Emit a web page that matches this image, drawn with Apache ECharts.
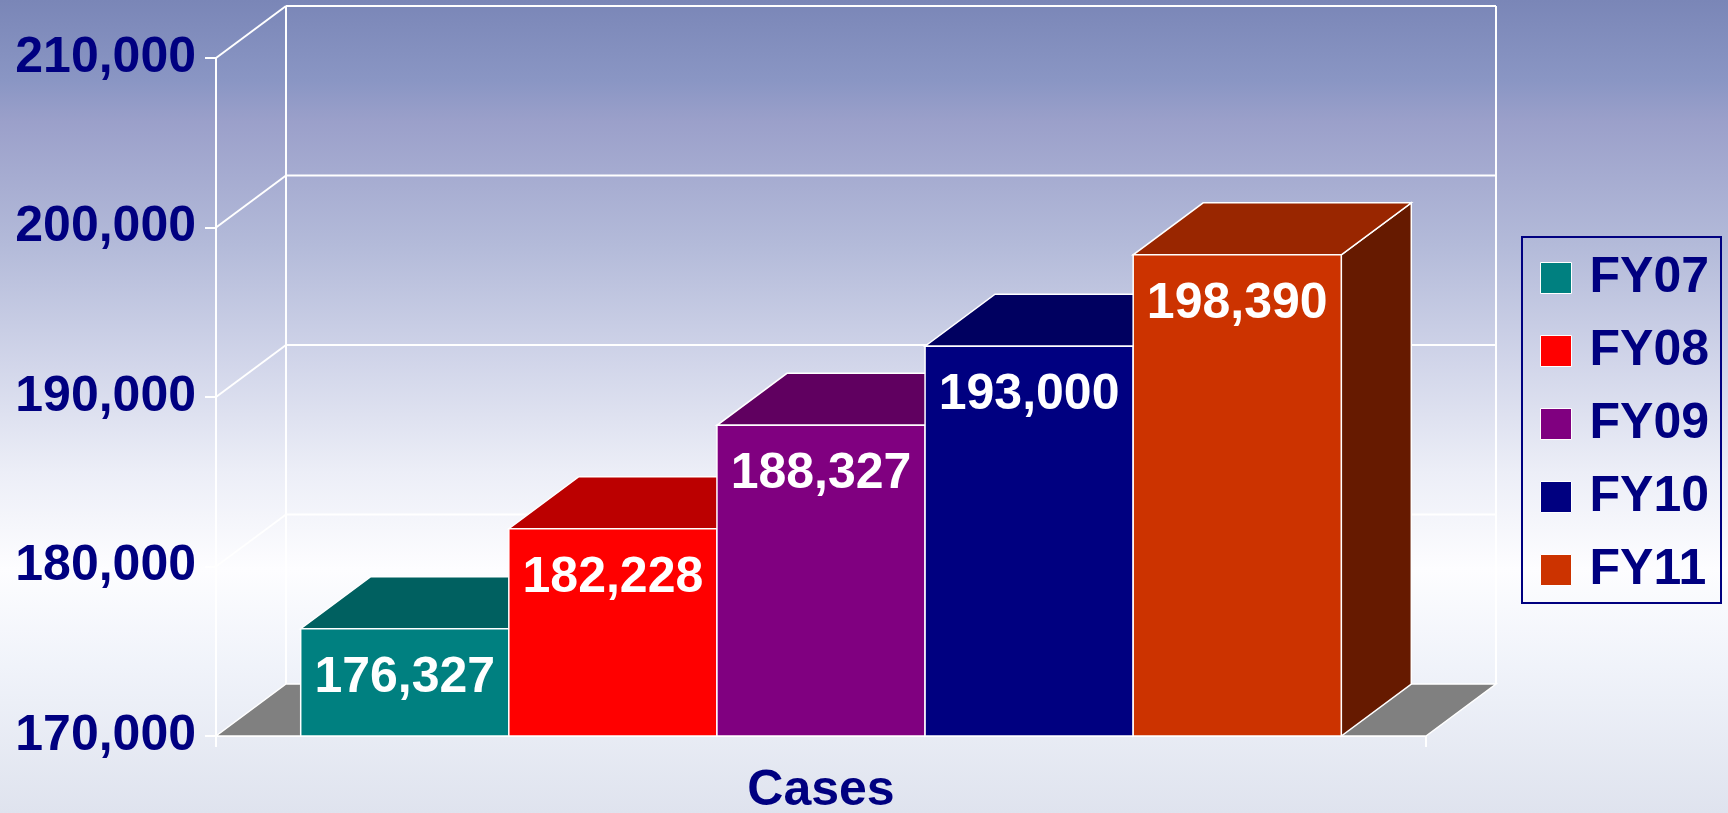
<!DOCTYPE html>
<html>
<head>
<meta charset="utf-8">
<title>Cases FY07-FY11</title>
<script src="https://cdn.jsdelivr.net/npm/echarts@6/dist/echarts.min.js"></script>
<style>
  html, body { margin: 0; padding: 0; }
  #chart { width: 1728px; height: 813px; }
</style>
</head>
<body>
<div id="chart"></div>
<script>
// data
const categories = ['Cases']
const seriesNames = ['FY07', 'FY08', 'FY09', 'FY10', 'FY11']
const caseValues = [176327, 182228, 188327, 193000, 198390]
const yTicks = [170000, 180000, 190000, 200000, 210000]

// styles
const frontColors = ['#008080', '#FF0000', '#800080', '#000080', '#CC3300']
const topColors = ['#006060', '#BB0000', '#600060', '#000060', '#992600']
const sideColors = ['#004040', '#800000', '#400040', '#000040', '#661A00']
const DX = 70, DY = 52          // depth of the fake 3d
const BAR_SPAN = 0.86           // share of the category band used by the bars
const FONT = '"Liberation Sans", Arial, sans-serif'
const NAVY = '#000080'

const fmt = v => Number(v).toLocaleString('en-US')

const myChart = echarts.init(document.getElementById('chart'))

// back wall, diagonals and floor, one item per y tick
const renderFrame = (params, api) => {
  const cs = params.coordSys
  const p = api.coord([0, api.value(1)])
  const y = p[1]
  const gx = cs.x, gw = cs.width
  const line = { stroke: '#fff', lineWidth: 2 }
  const children = []
  if (api.value(1) === yTicks[0]) {
    children.push({
      type: 'polygon',
      shape: { points: [[gx, y], [gx + gw, y], [gx + gw + DX, y - DY], [gx + DX, y - DY]] },
      style: { fill: '#808080', stroke: '#fff', lineWidth: 1.5 }
    })
  } else {
    children.push({ type: 'line', shape: { x1: gx + DX, y1: y - DY, x2: gx + gw + DX, y2: y - DY }, style: line })
    children.push({ type: 'line', shape: { x1: gx, y1: y, x2: gx + DX, y2: y - DY }, style: line })
  }
  if (api.value(1) === yTicks[yTicks.length - 1]) {
    const yb = api.coord([0, yTicks[0]])[1]
    children.push({ type: 'line', shape: { x1: gx + DX, y1: y - DY, x2: gx + DX, y2: yb - DY }, style: line })
    children.push({ type: 'line', shape: { x1: gx + gw + DX, y1: y - DY, x2: gx + gw + DX, y2: yb - DY }, style: line })
  }
  return { type: 'group', children }
}

// one box per series
const renderBox = i => (params, api) => {
  const v = api.value(1)
  const top = api.coord([api.value(0), v])
  const base = api.coord([api.value(0), yTicks[0]])
  const band = api.size([1, 0])[0]
  const total = band * BAR_SPAN
  const w = total / seriesNames.length
  const x0 = top[0] - total / 2 + i * w
  const x1 = x0 + w
  const yt = top[1], yb = base[1]
  const edge = { stroke: '#fff', lineWidth: 1.5 }
  return {
    type: 'group',
    children: [
      {
        type: 'polygon',
        shape: { points: [[x1, yt], [x1 + DX, yt - DY], [x1 + DX, yb - DY], [x1, yb]] },
        style: Object.assign({ fill: sideColors[i] }, edge)
      },
      {
        type: 'polygon',
        shape: { points: [[x0, yt], [x1, yt], [x1 + DX, yt - DY], [x0 + DX, yt - DY]] },
        style: Object.assign({ fill: topColors[i] }, edge)
      },
      {
        type: 'rect',
        shape: { x: x0, y: yt, width: w, height: yb - yt },
        style: Object.assign({ fill: frontColors[i] }, edge)
      },
      {
        type: 'text',
        style: {
          text: fmt(v),
          x: (x0 + x1) / 2,
          y: yt + 49,
          fill: '#fff',
          font: 'bold 50px ' + FONT,
          align: 'center',
          verticalAlign: 'middle'
        }
      }
    ]
  }
}

const series = [{
  type: 'custom',
  name: 'frame',
  silent: true,
  z: 1,
  renderItem: renderFrame,
  encode: { x: 0, y: 1 },
  data: yTicks.map(v => [0, v])
}]
seriesNames.forEach((name, i) => {
  series.push({
    type: 'custom',
    name: name,
    silent: true,
    z: 2 + i,
    itemStyle: { color: frontColors[i] },
    renderItem: renderBox(i),
    encode: { x: 0, y: 1 },
    data: [[0, caseValues[i]]]
  })
})

const option = {
  animation: false,
  color: frontColors,
  backgroundColor: new echarts.graphic.LinearGradient(0, 0, 0, 1, [
    { offset: 0, color: '#7a86b7' },
    { offset: 0.1, color: '#8a96c4' },
    { offset: 0.15, color: '#9ba0ca' },
    { offset: 0.3, color: '#b3bad9' },
    { offset: 0.45, color: '#d2d6ea' },
    { offset: 0.58, color: '#eceef7' },
    { offset: 0.7, color: '#fdfdff' },
    { offset: 0.82, color: '#f0f3fa' },
    { offset: 1, color: '#dfe3ee' }
  ]),
  grid: { left: 216, right: 302, top: 58, bottom: 77, outerBoundsMode: 'none' },
  legend: {
    data: seriesNames,
    orient: 'vertical',
    left: 1522,
    top: 237,
    icon: 'rect',
    itemWidth: 31,
    itemHeight: 31,
    itemGap: 23,
    padding: [16, 12, 8, 18],
    borderColor: NAVY,
    borderWidth: 2,
    itemStyle: { borderColor: '#fff', borderWidth: 1 },
    textStyle: {
      color: NAVY,
      fontSize: 50,
      fontWeight: 'bold',
      fontFamily: FONT,
      padding: [0, 0, 0, 13]
    }
  },
  xAxis: {
    type: 'category',
    data: categories,
    axisLine: { lineStyle: { color: '#fff', width: 2 } },
    axisTick: { show: true, length: 11, lineStyle: { color: '#fff', width: 2 } },
    axisLabel: { color: NAVY, fontSize: 50, fontWeight: 'bold', fontFamily: FONT, margin: 30 },
    splitLine: { show: false }
  },
  yAxis: {
    type: 'value',
    min: yTicks[0],
    max: yTicks[yTicks.length - 1],
    interval: 10000,
    axisLine: { show: true, lineStyle: { color: '#fff', width: 2 } },
    axisTick: { show: true, length: 11, lineStyle: { color: '#fff', width: 2 } },
    axisLabel: { color: NAVY, fontSize: 50, fontWeight: 'bold', fontFamily: FONT, margin: 20, formatter: fmt },
    splitLine: { show: false }
  },
  series: series
}
myChart.setOption(option)
</script>
</body>
</html>
